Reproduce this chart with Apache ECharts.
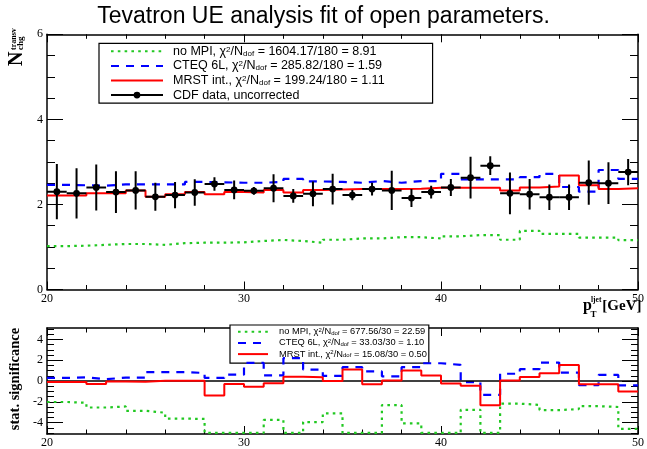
<!DOCTYPE html>
<html><head><meta charset="utf-8">
<script src="https://cdn.jsdelivr.net/npm/echarts@6/dist/echarts.min.js"></script>
<style>html,body{margin:0;padding:0;background:#fff}#c{width:647px;height:449px}</style>
</head><body><div id="c"></div>
<script>
// ---- data ----
const binEdges = [20,21,22,23,24,25,26,27,28,29,30,31,32,33,34,35,36,37,38,39,40,41,42,43,44,45,46,47,48,49,50];
const cdfValues = [2.30,2.26,2.40,2.29,2.33,2.18,2.22,2.28,2.48,2.34,2.32,2.38,2.20,2.25,2.36,2.22,2.36,2.33,2.15,2.29,2.40,2.63,2.91,2.26,2.24,2.17,2.17,2.51,2.50,2.76];
const cdfErrors = [0.65,0.59,0.54,0.49,0.45,0.33,0.31,0.31,0.16,0.22,0.09,0.33,0.16,0.29,0.36,0.12,0.15,0.46,0.21,0.15,0.20,0.49,0.22,0.49,0.36,0.30,0.30,0.52,0.49,0.31];
const noMpiValues = [1.02,1.03,1.05,1.07,1.07,1.05,1.09,1.10,1.10,1.11,1.14,1.165,1.14,1.10,1.17,1.20,1.20,1.23,1.23,1.20,1.25,1.28,1.28,1.17,1.38,1.31,1.31,1.22,1.22,1.16];
const cteqValues = [2.46,2.45,2.44,2.47,2.47,2.47,2.47,2.53,2.52,2.51,2.51,2.53,2.60,2.54,2.53,2.51,2.55,2.51,2.55,2.55,2.72,2.59,2.59,2.59,2.64,2.72,2.41,2.30,2.81,2.60];
const mrstValues = [2.21,2.21,2.26,2.26,2.33,2.18,2.24,2.29,2.24,2.29,2.28,2.34,2.28,2.34,2.35,2.36,2.36,2.36,2.37,2.39,2.39,2.39,2.39,2.33,2.40,2.42,2.68,2.45,2.36,2.38];
const noMpiSig = [-2.02,-2.1,-2.55,-2.45,-2.87,-3.05,-3.62,-3.65,-5.0,-5.0,-5.0,-3.75,-5.0,-3.95,-3.12,-5.0,-5.0,-2.32,-4.08,-5.0,-5.0,-2.77,-5.0,-2.18,-2.3,-2.8,-2.7,-2.42,-2.5,-4.6];
const cteqSig = [0.30,0.36,0.17,0.33,0.33,0.86,0.86,0.77,0.30,0.61,1.74,0.55,2.2,1.1,0.49,1.33,0.92,0.45,1.33,1.71,1.55,-0.1,-1.33,0.70,1.14,1.77,0.80,-0.39,0.58,-0.42];
const mrstSig = [-0.1,-0.1,-0.3,-0.05,-0.08,0.02,0.02,0.02,-1.4,-0.3,-0.55,-0.22,0.42,0.36,0.0,1.11,-0.31,0.06,1.0,0.53,-0.25,-0.45,-2.33,0.06,0.38,0.75,1.55,-0.31,-0.31,-1.02];
const sigMajorTicks = [-4,-2,0,2,4];
const sigMinorTicks = [-5,-4.5,-3.5,-3,-2.5,-1.5,-1,-0.5,0.5,1,1.5,2.5,3,3.5,4.5,5];
const modelNames = ['no MPI','CTEQ 6L','MRST int.'];
const chiTop = ['1604.17/180 = 8.91','285.82/180 = 1.59','199.24/180 = 1.11'];
const chiBottom = ['677.56/30 = 22.59','33.03/30 = 1.10','15.08/30 = 0.50'];
const dataName = 'CDF data, uncorrected';

// ---- helpers ----
function stepData(vals){
  const d = vals.map((v,i)=>[binEdges[i], v]);
  d.push([binEdges[binEdges.length-1], vals[vals.length-1]]);
  return d;
}
const cdfData = cdfValues.map((v,i)=>[(binEdges[i]+binEdges[i+1])/2, v, cdfErrors[i], (binEdges[i+1]-binEdges[i])/2]);

const GREEN = '#22c822', BLUE = '#0000ff', RED = '#ff0000';
const serif = '"Liberation Serif", "DejaVu Serif", serif';
const sans = '"Liberation Sans", Arial, sans-serif';

const styles = [
  {color: GREEN, type: [2.6, 4.2], width: 2.2},
  {color: BLUE, type: [8, 7], width: 2.2},
  {color: RED, type: 'solid', width: 2}
];

const legendMapTop = {}, legendMapBottom = {};
modelNames.forEach((n,i)=>{
  legendMapTop[n] = '{t|' + n + ', \u03c7}{sup|2}{t|/N}{sub|dof}{t| = ' + chiTop[i] + '}';
  legendMapBottom[n + ' sig'] = '{t|' + n + ', \u03c7}{sup|2}{t|/N}{sub|dof}{t| = ' + chiBottom[i] + '}';
});
legendMapTop[dataName] = '{t|' + dataName + '}';

function axisCommon(extra){
  return Object.assign({
    type: 'value',
    axisLine: {show: true, onZero: false, lineStyle: {color: '#000', width: 1.5}},
    splitLine: {show: false},
    axisLabel: {show: false},
  }, extra);
}

const xTick = {show: true, inside: true, length: 8, lineStyle: {color: '#000', width: 1}};
const xMinor = {show: true, splitNumber: 5, length: 4.5, lineStyle: {color: '#000', width: 1}};
const xLabel = {show: true, fontFamily: serif, fontSize: 12, color: '#000', margin: 3};

const series = [];
modelNames.forEach((n,i)=>{
  const vals = [noMpiValues, cteqValues, mrstValues][i];
  series.push({
    name: n, type: 'line', xAxisIndex: 0, yAxisIndex: 0, step: 'end', symbol: 'none',
    data: stepData(vals), lineStyle: {color: styles[i].color, type: styles[i].type, width: styles[i].width, cap: 'butt'},
    itemStyle: {color: styles[i].color}, z: 2 + i, silent: true
  });
});
series.push({
  name: dataName, type: 'custom', xAxisIndex: 0, yAxisIndex: 0, data: cdfData, z: 10,
  itemStyle: {color: '#000'}, encode: {x: 0, y: 1}, clip: true, silent: true,
  renderItem: function(params, api){
    const x = api.value(0), y = api.value(1), e = api.value(2), hw = api.value(3);
    const c = api.coord([x, y]);
    const t = api.coord([x, y + e]);
    const b = api.coord([x, y - e]);
    const l = api.coord([x - hw, y]);
    const r = api.coord([x + hw, y]);
    return {type: 'group', children: [
      {type: 'line', shape: {x1: l[0], y1: c[1], x2: r[0], y2: c[1]}, style: {stroke: '#000', lineWidth: 2}},
      {type: 'line', shape: {x1: c[0], y1: t[1], x2: c[0], y2: b[1]}, style: {stroke: '#000', lineWidth: 2}},
      {type: 'circle', shape: {cx: c[0], cy: c[1], r: 3.4}, style: {fill: '#000'}}
    ]};
  }
});
modelNames.forEach((n,i)=>{
  const vals = [noMpiSig, cteqSig, mrstSig][i];
  const s = {
    name: n + ' sig', type: 'line', xAxisIndex: 2, yAxisIndex: 2, step: 'end', symbol: 'none',
    data: stepData(vals), lineStyle: {color: styles[i].color, type: styles[i].type, width: styles[i].width, cap: 'butt'},
    itemStyle: {color: styles[i].color}, z: 3 + i, silent: true
  };
  if (i === 0) {
    s.markLine = {silent: true, symbol: 'none', label: {show: false}, animation: false,
      lineStyle: {color: '#000', width: 1.5, type: 'solid'}, data: [{yAxis: 0}]};
  }
  series.push(s);
});

const cdfIcon = 'path://M0,0 L0.01,0 L0,0.01 Z M52,12 L51.99,12 L52,11.99 Z M0,5 L52,5 L52,7 L0,7 Z M22.6,6 A3.4,3.4 0 1 1 29.4,6 A3.4,3.4 0 1 1 22.6,6 Z';
const hideSym = {opacity: 0};

const richTop = {
  t: {fontFamily: sans, fontSize: 12.5, color: '#000', lineHeight: 12},
  sup: {fontFamily: sans, fontSize: 8, color: '#000', verticalAlign: 'top', lineHeight: 12},
  sub: {fontFamily: sans, fontSize: 8, color: '#000', verticalAlign: 'bottom', lineHeight: 12}
};
const richBottom = {
  t: {fontFamily: sans, fontSize: 9.3, color: '#000', lineHeight: 9},
  sup: {fontFamily: sans, fontSize: 6, color: '#000', verticalAlign: 'top', lineHeight: 9},
  sub: {fontFamily: sans, fontSize: 6, color: '#000', verticalAlign: 'bottom', lineHeight: 9}
};

const option = {
  animation: false,
  backgroundColor: '#fff',
  title: {text: 'Tevatron UE analysis fit of open parameters.', left: 'center', top: 0,
    textStyle: {fontFamily: sans, fontSize: 23, fontWeight: 'normal', color: '#000'}},
  grid: [
    {left: 47, right: 5.3, top: 34.3, height: 255.2},
    {left: 47, right: 5.3, top: 328, height: 109}
  ],
  xAxis: [
    axisCommon({gridIndex: 0, position: 'bottom', min: 20, max: 50, interval: 10, axisTick: xTick, minorTick: xMinor, axisLabel: xLabel}),
    axisCommon({gridIndex: 0, position: 'top', min: 20, max: 50, interval: 10, axisTick: xTick, minorTick: xMinor}),
    axisCommon({gridIndex: 1, position: 'bottom', min: 20, max: 50, interval: 10, axisTick: xTick, minorTick: xMinor, axisLabel: xLabel}),
    axisCommon({gridIndex: 1, position: 'top', min: 20, max: 50, interval: 10, axisTick: xTick, minorTick: xMinor})
  ],
  yAxis: [
    axisCommon({gridIndex: 0, position: 'left', min: 0, max: 6, interval: 2,
      axisTick: {show: true, inside: true, length: 16, lineStyle: {color: '#000', width: 1}},
      minorTick: {show: true, splitNumber: 4, length: 8, lineStyle: {color: '#000', width: 1}},
      axisLabel: {show: true, fontFamily: serif, fontSize: 12, color: '#000', margin: 4}}),
    axisCommon({gridIndex: 0, position: 'right', min: 0, max: 6, interval: 2,
      axisTick: {show: true, inside: true, length: 16, lineStyle: {color: '#000', width: 1}},
      minorTick: {show: true, splitNumber: 4, length: 8, lineStyle: {color: '#000', width: 1}}}),
    axisCommon({gridIndex: 1, position: 'left', min: -5.1, max: 5.1,
      axisTick: {show: true, inside: true, length: 16, customValues: sigMajorTicks, lineStyle: {color: '#000', width: 1}},
      axisLabel: {show: true, fontFamily: serif, fontSize: 12, color: '#000', margin: 4, customValues: sigMajorTicks}}),
    axisCommon({gridIndex: 1, position: 'right', min: -5.1, max: 5.1,
      axisTick: {show: true, inside: true, length: 16, customValues: sigMajorTicks, lineStyle: {color: '#000', width: 1}}}),
    axisCommon({gridIndex: 1, position: 'left', min: -5.1, max: 5.1, axisLine: {show: false, onZero: false},
      axisTick: {show: true, inside: true, length: 7, customValues: sigMinorTicks, lineStyle: {color: '#000', width: 1}}}),
    axisCommon({gridIndex: 1, position: 'right', min: -5.1, max: 5.1, axisLine: {show: false, onZero: false},
      axisTick: {show: true, inside: true, length: 7, customValues: sigMinorTicks, lineStyle: {color: '#000', width: 1}}})
  ],
  legend: [
    {
      orient: 'vertical', left: 99, top: 43.3, selectedMode: false,
      itemWidth: 52, itemHeight: 12, itemGap: 1.6,
      padding: [1.5, 48, 1.5, 11],
      backgroundColor: '#fff', borderColor: '#000', borderWidth: 1.2,
      data: [
        {name: modelNames[0], itemStyle: hideSym},
        {name: modelNames[1], itemStyle: hideSym},
        {name: modelNames[2], itemStyle: hideSym},
        {name: dataName, icon: cdfIcon}
      ],
      formatter: function(name){ return legendMapTop[name]; },
      textStyle: {fontFamily: sans, fontSize: 12.5, color: '#000', padding: [0,0,0,5], rich: richTop}
    },
    {
      orient: 'vertical', left: 230, top: 325, selectedMode: false,
      itemWidth: 30, itemHeight: 9, itemGap: 2.2,
      padding: [2.2, 2, 4.5, 7],
      backgroundColor: '#fff', borderColor: '#000', borderWidth: 1.2,
      data: modelNames.map(n => ({name: n + ' sig', itemStyle: hideSym})),
      formatter: function(name){ return legendMapBottom[name]; },
      textStyle: {fontFamily: sans, fontSize: 9.3, color: '#000', padding: [0,0,0,6], rich: richBottom}
    }
  ],
  graphic: [
    {type: 'text', x: 17, y: 66, rotation: Math.PI/2,
      style: {text: 'N', font: 'bold 20px ' + serif, fill: '#000', textAlign: 'left', textVerticalAlign: 'middle', align: 'left', verticalAlign: 'middle'}},
    {type: 'text', x: 13.8, y: 50, rotation: Math.PI/2,
      style: {text: 'transv', font: 'bold 8px ' + serif, fill: '#000', textAlign: 'left', textVerticalAlign: 'middle', align: 'left', verticalAlign: 'middle'}},
    {type: 'text', x: 21, y: 50, rotation: Math.PI/2,
      style: {text: 'chg', font: 'bold 9px ' + serif, fill: '#000', textAlign: 'left', textVerticalAlign: 'middle', align: 'left', verticalAlign: 'middle'}},
    {type: 'text', x: 583, y: 305.5,
      style: {text: 'p', font: 'bold 16px ' + serif, fill: '#000', textAlign: 'left', textVerticalAlign: 'middle', align: 'left', verticalAlign: 'middle'}},
    {type: 'text', x: 591, y: 300.5,
      style: {text: 'ljet', font: 'bold 7.5px ' + serif, fill: '#000', textAlign: 'left', textVerticalAlign: 'middle', align: 'left', verticalAlign: 'middle'}},
    {type: 'text', x: 590.5, y: 315,
      style: {text: 'T', font: 'bold 9px ' + serif, fill: '#000', textAlign: 'left', textVerticalAlign: 'middle', align: 'left', verticalAlign: 'middle'}},
    {type: 'text', x: 641.5, y: 306,
      style: {text: '[GeV]', font: 'bold 15px ' + serif, fill: '#000', textAlign: 'right', textVerticalAlign: 'middle', align: 'right', verticalAlign: 'middle'}},
    {type: 'text', x: 15.5, y: 379, rotation: Math.PI/2,
      style: {text: 'stat. significance', font: 'bold 14.5px ' + serif, fill: '#000', textAlign: 'center', textVerticalAlign: 'middle', align: 'center', verticalAlign: 'middle'}}
  ],
  series: series
};

const chart = echarts.init(document.getElementById('c'), null, {renderer: 'canvas'});
chart.setOption(option);
</script>
</body></html>
